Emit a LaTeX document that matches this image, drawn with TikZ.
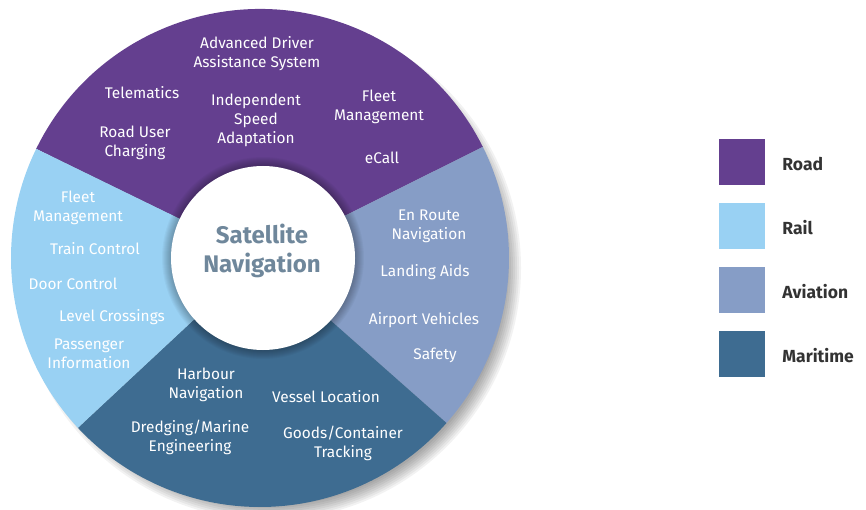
\documentclass[tikz,border=0pt]{standalone}
\usepackage{fontspec}
\setmainfont{Fira Sans}
\usetikzlibrary{positioning}
\definecolor{road}{HTML}{643F8F}
\definecolor{rail}{HTML}{99D1F3}
\definecolor{aviation}{HTML}{869DC6}
\definecolor{maritime}{HTML}{3E6C91}
\definecolor{hubtext}{HTML}{6F879B}
\definecolor{keytext}{HTML}{333333}

\begin{document}
\begin{tikzpicture}[x=1pt, y=-1pt,
          lbl/.style = {text=white, align=center, inner sep=0pt, font=\fontsize{15.4}{19}\selectfont},
          hub/.style = {circle, fill=white, minimum size=184pt, inner sep=0pt},
          ttl/.style = {text=hubtext, align=center, inner sep=0pt, font=\fontsize{24}{29}\selectfont\bfseries},
          key/.style = {minimum size=46pt, inner sep=0pt},
          keylbl/.style = {text=keytext, inner sep=0pt, font=\fontsize{17.5}{19}\selectfont\bfseries}]
        \useasboundingbox (0,0) rectangle (866,510);
        \coordinate (o) at (260,258);
        % soft shadow under the wheel
        \foreach \r in {238,240,...,252}
                 {
                   \fill[black, opacity=.05] (269,268) circle (\r);
                 }
        \foreach \c/\a/\b in {road/-154/-26.5, aviation/-26.5/41.5, maritime/41.5/137, rail/137/206}
                 {
                   \fill[\c] (o) -- ++(\a:249) arc[start angle=\a, end angle=\b, radius=249] -- cycle;
                 }
        % halo round the hub
        \foreach \r in {92,...,101}
                 {
                   \fill[black, opacity=.03] (263,258) circle (\r);
                 }
        \node[hub] (hub) at (263,258) {};
        \node[ttl] (sat) at (262,251) {Satellite\\Navigation};
        % road
        \node[lbl] (adas) at (257,54) {Advanced Driver\\Assistance System};
        \node[lbl] (tele) at (142,93) {Telematics};
        \node[lbl] (isa) at (256,120) {Independent\\Speed\\Adaptation};
        \node[lbl] (rfm) at (379,107) {Fleet\\Management};
        \node[lbl] (ruc) at (135,143) {Road User\\Charging};
        \node[lbl] (ecall) at (382,158) {eCall};
        % rail
        \node[lbl] (lfm) at (78,208) {Fleet\\Management};
        \node[lbl] (tc) at (95,249) {Train Control};
        \node[lbl] (dc) at (73,284) {Door Control};
        \node[lbl] (lc) at (112,317) {Level Crossings};
        \node[lbl] (pi) at (89,354) {Passenger\\Information};
        % maritime
        \node[lbl] (hn) at (206,385) {Harbour\\Navigation};
        \node[lbl] (vl) at (326,397) {Vessel Location};
        \node[lbl] (dme) at (190,437) {Dredging/Marine\\Engineering};
        \node[lbl] (gct) at (343,443) {Goods/Container\\Tracking};
        % aviation
        \node[lbl] (ern) at (429,226) {En Route\\Navigation};
        \node[lbl] (la) at (425,272) {Landing Aids};
        \node[lbl] (av) at (424,320) {Airport Vehicles};
        \node[lbl] (sf) at (435,355) {Safety};
        % legend
        \foreach \c/\t/\y [count=\i] in {road/Road/162, rail/Rail/226, aviation/Aviation/290, maritime/Maritime/354}
                 {
                   \node[key, fill=\c] (k\i) at (742,\y) {};
                   \node[keylbl] (t\i) [right=17pt of k\i, yshift=-2pt] {\t};
                 }
      \end{tikzpicture}
\end{document}
